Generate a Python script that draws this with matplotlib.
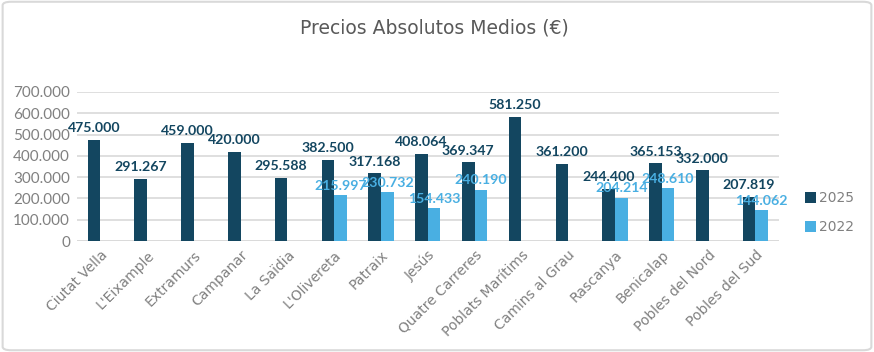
import numpy as np
import matplotlib
matplotlib.use("Agg")
import matplotlib.pyplot as plt
from matplotlib.patches import FancyBboxPatch

plt.rcParams['font.family'] = ['DejaVu Sans']

barrios = ["Ciutat Vella", "L'Eixample", "Extramurs", "Campanar", "La Saïdia",
           "L'Olivereta", "Patraix", "Jesús", "Quatre Carreres", "Poblats Marítims",
           "Camins al Grau", "Rascanya", "Benicalap", "Pobles del Nord", "Pobles del Sud"]
precio_2025 = [475000, 291267, 459000, 420000, 295588, 382500, 317168, 408064,
               369347, 581250, 361200, 244400, 365153, 332000, 207819]
precio_2022 = [np.nan, np.nan, np.nan, np.nan, np.nan, 215997, 230732, 154433,
               240190, np.nan, np.nan, 204214, 248610, np.nan, 144062]

c25 = "#134660"
c22 = "#49AFE2"
gris = "#808080"


def fmt(v):
    return f"{v:,.0f}".replace(",", ".")


fig = plt.figure(figsize=(8.74, 3.52), dpi=100)
ax = fig.add_axes([0.088, 0.315, 0.803, 0.424])

x = np.arange(len(barrios))
w = 0.27
ax.bar(x - w / 2, precio_2025, w, color=c25, label="2025", zorder=3)
ax.bar(x + w / 2, precio_2022, w, color=c22, label="2022", zorder=3)

# etiquetas de datos encima de cada barra
for i, v in enumerate(precio_2025):
    ax.text(x[i] - w / 2, v + 27000, fmt(v), ha="center", va="bottom",
            color=c25, fontsize=10.2, fontweight="bold", family="Lato", zorder=4)
for i, v in enumerate(precio_2022):
    if not np.isnan(v):
        ax.text(x[i] + w / 2, v + 16000, fmt(v), ha="center", va="bottom",
                color=c22, fontsize=10.2, fontweight="bold", family="Lato", zorder=4)

ax.set_xlim(-0.5, len(barrios) - 0.5)
ax.set_ylim(0, 700000)
ax.set_yticks(np.arange(0, 700001, 100000))
ax.set_yticklabels([fmt(t) for t in np.arange(0, 700001, 100000)], color=gris,
                   fontsize=11, family="Lato")
ax.set_xticks(x)
ax.set_xticklabels(barrios, rotation=45, ha="right", rotation_mode="anchor",
                   color=gris, fontsize=10)
ax.tick_params(length=0, pad=5)
ax.grid(axis="y", color="#d9d9d9", linewidth=1.2, zorder=0)
for s in ax.spines.values():
    s.set_visible(False)
ax.axhline(0, color="#d9d9d9", linewidth=1.2, zorder=1)

ax.legend(loc="center left", bbox_to_anchor=(1.02, 0.19), frameon=False,
          fontsize=10, labelcolor=gris, handlelength=0.8, handleheight=0.8,
          handletextpad=0.2, labelspacing=1.1)

fig.text(0.497, 0.92, "Precios Absolutos Medios (€)", ha="center", va="center",
         fontsize=13.5, color="#595959")

fig.patches.append(FancyBboxPatch((0.003, 0.005), 0.994, 0.99,
                                  boxstyle="round,pad=0,rounding_size=0.01",
                                  transform=fig.transFigure, fill=False,
                                  edgecolor="#d9d9d9", linewidth=1.5))

fig.savefig("out.png", dpi=100)
